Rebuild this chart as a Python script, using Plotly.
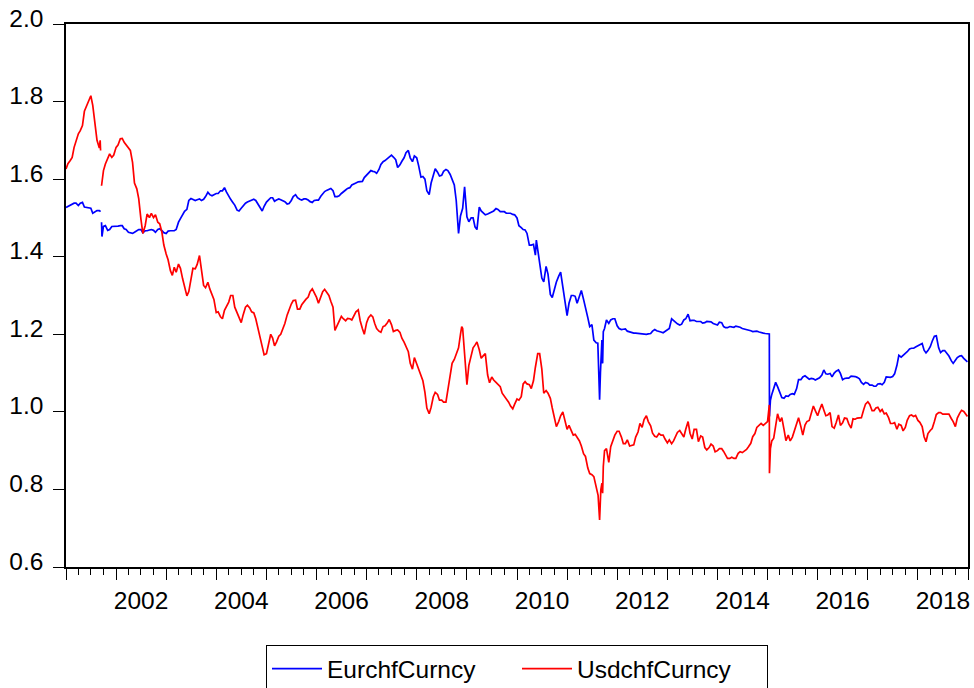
import numpy as np
import pandas as pd
import plotly.graph_objects as go

# ---- data: readings on the 1st and 15th of each month from Jan 2001, plus extra daily points ----
start_month = "2001-01-01"

eurchf_first = [
    1.527, 1.533, 1.538, 1.532, 1.540, 1.527, 1.525, 1.515, 1.519, 1.478, 1.468, 1.478,  # 2001
    1.478, 1.480, 1.472, 1.463, 1.460, 1.467, 1.470, 1.467, 1.469, 1.468, 1.470, 1.467,  # 2002
    1.460, 1.467, 1.467, 1.489, 1.508, 1.522, 1.550, 1.545, 1.549, 1.548, 1.566, 1.557,  # 2003
    1.563, 1.570, 1.578, 1.555, 1.540, 1.520, 1.525, 1.538, 1.544, 1.548, 1.535, 1.518,  # 2004
    1.541, 1.552, 1.543, 1.549, 1.545, 1.536, 1.545, 1.560, 1.548, 1.549, 1.546, 1.540,  # 2005
    1.546, 1.556, 1.568, 1.575, 1.570, 1.555, 1.563, 1.572, 1.578, 1.587, 1.593, 1.594,  # 2006
    1.610, 1.622, 1.619, 1.625, 1.645, 1.653, 1.662, 1.650, 1.637, 1.655, 1.674, 1.645,  # 2007
    1.655, 1.605, 1.600, 1.560, 1.612, 1.618, 1.610, 1.625, 1.612, 1.585, 1.460, 1.525,  # 2008
    1.503, 1.500, 1.477, 1.528, 1.512, 1.510, 1.516, 1.524, 1.516, 1.516, 1.512, 1.509,  # 2009
    1.500, 1.475, 1.469, 1.430, 1.432, 1.420, 1.345, 1.375, 1.303, 1.320, 1.350, 1.322,  # 2010
    1.248, 1.300, 1.298, 1.297, 1.290, 1.243, 1.225, 1.178, 1.100, 1.215, 1.228, 1.240,  # 2011
    1.222, 1.212, 1.214, 1.206, 1.203, 1.202, 1.201, 1.200, 1.202, 1.212, 1.208, 1.204,  # 2012
    1.211, 1.240, 1.230, 1.224, 1.237, 1.252, 1.236, 1.233, 1.233, 1.230, 1.233, 1.228,  # 2013
    1.224, 1.230, 1.217, 1.220, 1.218, 1.220, 1.215, 1.213, 1.209, 1.207, 1.206, 1.203,  # 2014
    1.202, 1.045, 1.076, 1.052, 1.035, 1.040, 1.047, 1.060, 1.083, 1.093, 1.084, 1.085,  # 2015
    1.085, 1.095, 1.098, 1.099, 1.100, 1.108, 1.083, 1.087, 1.092, 1.091, 1.085, 1.071,  # 2016
    1.074, 1.069, 1.066, 1.073, 1.076, 1.089, 1.091, 1.120, 1.141, 1.151, 1.162, 1.164,  # 2017
    1.170, 1.176, 1.152, 1.168, 1.195, 1.165, 1.158, 1.150, 1.132, 1.133, 1.144, 1.138,  # 2018
]
eurchf_mid = [
    1.530, 1.536, 1.538, 1.538, 1.528, 1.527, 1.512, 1.519, None, 1.480, 1.470, 1.478,  # 2001
    1.479, 1.480, 1.470, 1.461, 1.463, 1.470, 1.462, 1.467, 1.470, 1.463, 1.472, 1.462,  # 2002
    1.466, 1.467, 1.470, 1.498, 1.517, 1.545, 1.548, 1.547, 1.545, 1.555, 1.560, 1.560,  # 2003
    1.563, 1.570, 1.567, 1.548, 1.533, 1.518, 1.532, 1.541, 1.546, 1.545, 1.525, 1.530,  # 2004
    1.546, 1.552, 1.546, 1.547, 1.542, 1.537, 1.555, 1.552, 1.546, 1.549, 1.542, 1.545,  # 2005
    1.546, 1.562, 1.571, 1.576, 1.555, 1.557, 1.568, 1.576, 1.585, 1.590, 1.593, 1.604,  # 2006
    1.616, 1.620, 1.615, 1.638, 1.648, 1.657, 1.657, 1.630, 1.646, 1.668, 1.655, 1.660,  # 2007
    1.635, 1.607, 1.570, 1.590, 1.627, 1.608, 1.620, 1.622, 1.598, 1.545, 1.505, 1.580,  # 2008
    1.490, 1.500, 1.470, 1.518, 1.508, 1.513, 1.518, 1.522, 1.516, 1.512, 1.512, 1.508,  # 2009
    1.480, 1.470, 1.460, 1.430, 1.404, 1.388, 1.335, 1.355, 1.295, 1.335, 1.360, 1.282,  # 2010
    1.280, 1.300, 1.280, 1.313, 1.265, 1.220, 1.185, 1.140, 1.160, 1.237, 1.237, 1.240,  # 2011
    1.215, 1.213, 1.208, 1.204, 1.203, 1.201, 1.200, 1.201, 1.208, 1.209, 1.206, 1.207,  # 2012
    1.215, 1.236, 1.227, 1.226, 1.240, 1.235, 1.236, 1.233, 1.229, 1.233, 1.232, 1.226,  # 2013
    1.231, 1.220, 1.217, 1.219, 1.221, 1.218, 1.214, 1.211, 1.207, 1.208, 1.204, 1.202,  # 2014
    0.988, 1.060, 1.065, 1.037, 1.041, 1.045, 1.045, 1.083, 1.090, 1.089, 1.086, 1.082,  # 2015
    1.088, 1.108, 1.097, 1.090, 1.105, 1.099, 1.086, 1.087, 1.092, 1.089, 1.076, 1.076,  # 2016
    1.069, 1.066, 1.072, 1.070, 1.090, 1.089, 1.098, 1.146, 1.147, 1.155, 1.164, 1.167,  # 2017
    1.172, 1.159, 1.158, 1.182, 1.196, 1.153, 1.158, 1.144, 1.125, 1.140, 1.145, 1.133,  # 2018
]

usdchf_first = [
    1.626, 1.648, 1.682, 1.717, 1.738, 1.790, 1.815, 1.738, 1.680, 1.622, 1.656, 1.656,  # 2001
    1.682, 1.704, 1.695, 1.678, 1.643, 1.575, 1.497, 1.480, 1.501, 1.501, 1.489, 1.463,  # 2002
    1.407, 1.364, 1.373, 1.381, 1.343, 1.299, 1.343, 1.369, 1.403, 1.326, 1.334, 1.304,  # 2003
    1.256, 1.245, 1.262, 1.283, 1.300, 1.255, 1.230, 1.270, 1.268, 1.255, 1.215, 1.165,  # 2004
    1.150, 1.200, 1.170, 1.195, 1.213, 1.250, 1.278, 1.288, 1.265, 1.285, 1.296, 1.317,  # 2005
    1.295, 1.298, 1.316, 1.300, 1.270, 1.222, 1.246, 1.235, 1.240, 1.250, 1.263, 1.215,  # 2006
    1.230, 1.250, 1.228, 1.208, 1.220, 1.230, 1.225, 1.210, 1.205, 1.180, 1.155, 1.110,  # 2007
    1.125, 1.095, 1.050, 0.995, 1.039, 1.045, 1.030, 1.025, 1.095, 1.135, 1.165, 1.215,  # 2008
    1.070, 1.150, 1.172, 1.160, 1.145, 1.095, 1.090, 1.076, 1.065, 1.040, 1.025, 1.008,  # 2009
    1.033, 1.039, 1.078, 1.070, 1.080, 1.150, 1.110, 1.055, 1.035, 0.980, 0.975, 1.000,  # 2010
    0.955, 0.950, 0.942, 0.925, 0.892, 0.855, 0.838, 0.805, 0.770, 0.900, 0.870, 0.928,  # 2011
    0.950, 0.935, 0.918, 0.912, 0.915, 0.948, 0.960, 0.990, 0.964, 0.937, 0.944, 0.940,  # 2012
    0.920, 0.918, 0.937, 0.952, 0.935, 0.975, 0.930, 0.955, 0.938, 0.908, 0.908, 0.912,  # 2013
    0.900, 0.905, 0.890, 0.880, 0.880, 0.893, 0.895, 0.903, 0.919, 0.944, 0.965, 0.965,  # 2014
    0.975, 0.925, 0.960, 0.975, 0.955, 0.940, 0.935, 0.970, 0.962, 0.966, 0.978, 1.015,  # 2015
    0.990, 1.020, 0.990, 0.998, 0.958, 0.992, 0.972, 0.983, 0.958, 0.981, 0.985, 1.005,  # 2016
    1.026, 1.003, 1.010, 1.001, 0.995, 0.985, 0.970, 0.955, 0.965, 0.960, 0.990, 0.988,  # 2017
    0.978, 0.962, 0.923, 0.952, 0.975, 0.998, 0.994, 0.993, 0.983, 0.962, 0.996, 1.001,  # 2018
]
usdchf_mid = [
    1.640, 1.656, 1.700, 1.725, 1.775, 1.803, 1.790, 1.700, None, 1.639, 1.665, 1.662,  # 2001
    1.688, 1.705, 1.688, 1.674, 1.590, 1.550, 1.460, 1.510, 1.512, 1.508, 1.485, 1.430,  # 2002
    1.392, 1.352, 1.360, 1.370, 1.320, 1.310, 1.370, 1.380, 1.370, 1.320, 1.317, 1.290,  # 2003
    1.258, 1.240, 1.272, 1.300, 1.270, 1.245, 1.250, 1.275, 1.258, 1.240, 1.190, 1.147,  # 2004
    1.177, 1.190, 1.180, 1.200, 1.228, 1.265, 1.287, 1.265, 1.276, 1.290, 1.310, 1.308,  # 2005
    1.280, 1.310, 1.310, 1.285, 1.210, 1.235, 1.240, 1.241, 1.237, 1.258, 1.235, 1.200,  # 2006
    1.243, 1.245, 1.215, 1.205, 1.222, 1.238, 1.207, 1.211, 1.190, 1.170, 1.125, 1.140,  # 2007
    1.110, 1.080, 1.010, 1.012, 1.050, 1.030, 1.025, 1.060, 1.125, 1.150, 1.200, 1.142,  # 2008
    1.120, 1.165, 1.180, 1.138, 1.150, 1.075, 1.082, 1.070, 1.048, 1.034, 1.015, 1.020,  # 2009
    1.030, 1.072, 1.072, 1.060, 1.115, 1.150, 1.048, 1.048, 1.010, 0.962, 0.990, 0.980,  # 2010
    0.965, 0.940, 0.935, 0.912, 0.885, 0.841, 0.833, 0.785, 0.800, 0.905, 0.910, 0.940,  # 2011
    0.950, 0.918, 0.928, 0.913, 0.935, 0.970, 0.980, 0.975, 0.945, 0.935, 0.940, 0.930,  # 2012
    0.928, 0.925, 0.947, 0.945, 0.955, 0.945, 0.955, 0.923, 0.935, 0.902, 0.917, 0.897,  # 2013
    0.905, 0.898, 0.880, 0.883, 0.880, 0.897, 0.898, 0.910, 0.936, 0.960, 0.970, 0.970,  # 2014
    0.842, 0.932, 0.995, 0.985, 0.926, 0.925, 0.951, 0.985, 0.940, 0.975, 0.993, 1.003,  # 2015
    1.005, 1.005, 0.992, 0.962, 0.972, 0.965, 0.984, 0.969, 0.982, 0.984, 0.985, 1.020,  # 2016
    1.019, 1.003, 1.012, 1.006, 0.997, 0.970, 0.972, 0.968, 0.951, 0.978, 0.992, 0.991,  # 2017
    0.973, 0.936, 0.944, 0.957, 0.993, 0.998, 0.994, 0.994, 0.975, 0.984, 1.004, 0.993,  # 2018
]

eurchf_extra_dates = [
    "2001-09-10", "2001-09-12", "2001-09-17", "2001-09-20",
    "2010-05-22",
    "2011-08-13", "2011-08-19", "2011-08-26", "2011-09-04", "2011-09-12", "2011-09-17", "2011-09-22",
    "2015-01-14", "2015-01-22",
    "2018-12-28",
]
eurchf_extra_values = [
    1.516, None, 1.489, 1.452,
    1.443,
    1.177, 1.099, 1.031, 1.142, 1.185, 1.125, 1.207,
    1.201, 1.030,
    1.129,
]

usdchf_extra_dates = [
    "2001-09-07", "2001-09-10", "2001-09-12", "2001-09-17",
    "2008-11-24",
    "2011-08-26", "2011-09-04", "2011-09-12", "2011-09-17", "2011-09-22",
    "2015-01-14", "2015-01-22",
    "2018-12-28",
]
usdchf_extra_values = [
    1.700, 1.674, None, 1.583,
    1.220,
    0.721, 0.799, 0.816, 0.790, 0.859,
    1.018, 0.905,
    0.988,
]

series_names = ["EurchfCurncy", "UsdchfCurncy"]
series_colors = ["#0000FF", "#FF0000"]


def build(first, mid, extra_dates, extra_values):
    d1 = pd.date_range(start_month, periods=len(first), freq="MS")
    d15 = d1 + pd.Timedelta(days=14)
    s = pd.concat([pd.Series(first, index=d1, dtype=float), pd.Series(mid, index=d15, dtype=float)])
    e = pd.Series(extra_values, index=pd.to_datetime(extra_dates), dtype=float)
    s = pd.concat([s[~s.index.isin(e.index)], e]).sort_index()
    return s


eur = build(eurchf_first, eurchf_mid, eurchf_extra_dates, eurchf_extra_values)
usd = build(usdchf_first, usdchf_mid, usdchf_extra_dates, usdchf_extra_values)

FONT = "Liberation Sans, Arial, Helvetica, sans-serif"
fig = go.Figure()
for s, name, color in zip([eur, usd], series_names, series_colors):
    fig.add_trace(go.Scatter(x=s.index, y=s.values, mode="lines", name=name,
                             line=dict(color=color, width=1.7), connectgaps=False))

fig.update_layout(
    width=974, height=688,
    margin=dict(l=66, r=6, t=24, b=121, autoexpand=False),
    paper_bgcolor="white", plot_bgcolor="white",
    font=dict(family=FONT, size=24.5, color="black"),
    showlegend=True,
    legend=dict(orientation="h", x=0.5, xanchor="center", y=-0.144, yanchor="top",
                bordercolor="black", borderwidth=1, font=dict(size=24.5),
                itemwidth=50, entrywidth=185, entrywidthmode="pixels"),
)
fig.update_xaxes(
    type="date", range=["2001-01-01", "2019-01-01"], automargin=False,
    tick0="2001-01-01", dtick="M12", ticklabelmode="period", tickformat="%Y",
    labelalias={str(y): "" for y in range(2001, 2020, 2)},
    ticks="outside", ticklen=11, tickwidth=1, tickcolor="black",
    minor=dict(dtick="M3", tick0="2001-01-01", ticks="outside", ticklen=6, tickwidth=1, tickcolor="black"),
    showline=True, linecolor="black", linewidth=1.5, mirror=True,
    showgrid=False, zeroline=False,
)
fig.update_yaxes(
    range=[0.6, 2.0], dtick=0.2, tick0=0.6, tickformat=".1f", automargin=False,
    ticks="outside", ticklen=11, tickwidth=1, tickcolor="black",
    ticklabelstandoff=5, ticklabelshift=-6,
    showline=True, linecolor="black", linewidth=1.5, mirror=True,
    showgrid=False, zeroline=False,
)

fig.write_html("out.html", config={"displayModeBar": False},
               post_script="document.body.style.margin='0';document.body.style.padding='0';")
